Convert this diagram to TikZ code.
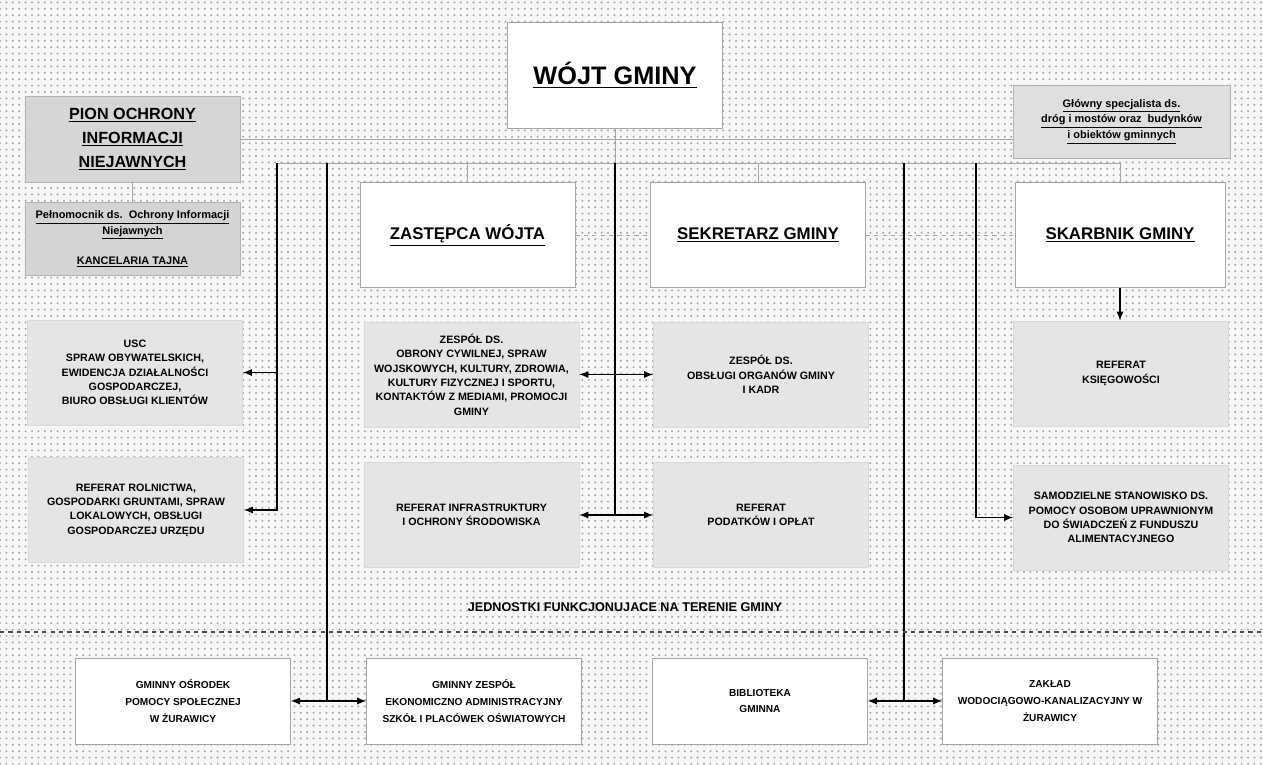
\documentclass[tikz,border=0pt]{standalone}
\usepackage{fontspec}
\setmainfont{Liberation Sans}
\usetikzlibrary{patterns.meta}

\tikzset{
  orgbox/.style={draw=gray!70, fill=white, align=center, inner sep=1pt,
    minimum width=53.75mm, minimum height=26.25mm,
    font=\bfseries\fontsize{7.6}{10.2}\selectfont},
  headbox/.style={orgbox, font=\bfseries\fontsize{12}{14}\selectfont},
  greybox/.style={orgbox, draw=gray!30, fill=gray!20},
  darkbox/.style={orgbox, draw=gray!60, fill=gray!32},
  extbox/.style={orgbox, minimum height=21.5mm, font=\bfseries\fontsize{7.2}{11.8}\selectfont},
  link/.style={very thick},
  thin link/.style={gray!70, thin}
}

\begin{document}
\begin{tikzpicture}[x=0.25mm, y=-0.25mm, >=latex]
\useasboundingbox (0,0) rectangle (1263,764);
\fill[gray!6] (0,0) rectangle (1263,764);
\fill[pattern={Dots[distance=1.6mm, radius=0.26mm]}, pattern color=gray!75] (0,0) rectangle (1263,764);

% top
\node[headbox, minimum height=26.5mm, font=\bfseries\fontsize{18}{20}\selectfont] (wojt) at (615,75) {\underline{WÓJT GMINY}};
\node[darkbox, minimum height=21.5mm, font=\bfseries\fontsize{11.5}{17}\selectfont] (pion) at (132.5,139)
  {\underline{PION OCHRONY}\\\underline{INFORMACJI}\\\underline{NIEJAWNYCH}};
\node[darkbox, fill=gray!34, minimum height=18.25mm, font=\bfseries\fontsize{7.8}{10.7}\selectfont] (pelnomocnik) at (132.5,239)
  {\underline{Pełnomocnik ds.\ \ Ochrony Informacji}\\\underline{Niejawnych}\\[10.7pt]\underline{KANCELARIA TAJNA}};
\node[darkbox, fill=gray!25, minimum width=54.25mm, minimum height=18.25mm, font=\bfseries\fontsize{7.8}{11.3}\selectfont] (glowny) at (1121.5,121.5)
  {\underline{Główny specjalista ds.}\\\underline{dróg i mostów oraz\ \ budynków}\\\underline{i obiektów gminnych}};

\node[headbox] (zastepca) at (467.5,235) {\underline{ZASTĘPCA WÓJTA}};
\node[headbox] (sekretarz) at (758,235) {\underline{SEKRETARZ GMINY}};
\node[headbox, minimum width=52.5mm] (skarbnik) at (1120,235) {\underline{SKARBNIK GMINY}};

% departments
\node[greybox] (usc) at (135,372.5) {USC\\SPRAW OBYWATELSKICH,\\EWIDENCJA DZIAŁALNOŚCI\\GOSPODARCZEJ,\\BIURO OBSŁUGI KLIENTÓW};
\node[greybox] (rolnictwa) at (136,510) {REFERAT ROLNICTWA,\\GOSPODARKI GRUNTAMI, SPRAW\\LOKALOWYCH, OBSŁUGI\\GOSPODARCZEJ URZĘDU};
\node[greybox] (zespol) at (471.5,374.5) {ZESPÓŁ DS.\\OBRONY CYWILNEJ, SPRAW\\WOJSKOWYCH, KULTURY, ZDROWIA,\\KULTURY FIZYCZNEJ I SPORTU,\\KONTAKTÓW Z MEDIAMI, PROMOCJI\\GMINY};
\node[greybox] (infra) at (471.5,515) {REFERAT INFRASTRUKTURY\\I OCHRONY ŚRODOWISKA};
\node[greybox] (organy) at (761,374.5) {ZESPÓŁ DS.\\OBSŁUGI ORGANÓW GMINY\\I KADR};
\node[greybox] (podatki) at (761,515) {REFERAT\\PODATKÓW I OPŁAT};
\node[greybox] (ksiegowosc) at (1121,373.5) {REFERAT\\KSIĘGOWOŚCI};
\node[greybox] (samodzielne) at (1121,517.5) {SAMODZIELNE STANOWISKO DS.\\POMOCY OSOBOM UPRAWNIONYM\\DO ŚWIADCZEŃ Z FUNDUSZU\\ALIMENTACYJNEGO};

% units
\node[font=\bfseries\fontsize{9}{11}\selectfont] (jednostki) at (625,607) {JEDNOSTKI FUNKCJONUJACE NA TERENIE GMINY};
\node[extbox] (gops) at (183,701) {GMINNY OŚRODEK\\POMOCY SPOŁECZNEJ\\W ŻURAWICY};
\node[extbox] (gzeas) at (474,701) {GMINNY ZESPÓŁ\\EKONOMICZNO ADMINISTRACYJNY\\SZKÓŁ I PLACÓWEK OŚWIATOWYCH};
\node[extbox] (biblioteka) at (760,701) {BIBLIOTEKA\\GMINNA};
\node[extbox] (zaklad) at (1050,701) {ZAKŁAD\\WODOCIĄGOWO-KANALIZACYJNY W\\ŻURAWICY};

\coordinate (busL) at (277,163);
\coordinate (busR) at (1120,163);
\coordinate (bus2) at (327,163);
\coordinate (bus4) at (904,163);
\coordinate (bus5) at (976,163);
\coordinate (sepL) at (0,632);
\coordinate (sepR) at (1263,632);

% lines
\draw[thin link] (pion.east) -- (pion.east -| glowny.west);
\draw[thin link] (pion) -- (pelnomocnik);
\draw[thin link] (wojt) -- (wojt |- busL);
\draw[thin link] (busL) -- (busR);
\draw[thin link] (zastepca.north |- busL) -- (zastepca);
\draw[thin link] (sekretarz.north |- busL) -- (sekretarz);
\draw[thin link] (busR) -- (skarbnik);
\draw[thin link, dashed] (zastepca) -- (sekretarz);
\draw[thin link, dashed] (sekretarz) -- (skarbnik);

\draw[link, ->] (busL) |- (rolnictwa);
\draw[link, ->] (busL |- usc.east) -- (usc);
\draw[link] (bus2) -- (bus2 |- gops.east);
\draw[link, <->] (gops) -- (gzeas);
\draw[link] (wojt.south |- busL) -- (wojt.south |- infra.east);
\draw[link, <->] (zespol) -- (organy);
\draw[link, <->] (infra) -- (podatki);
\draw[link, ->] (skarbnik.south) -- (skarbnik.south |- ksiegowosc.north);
\draw[link] (bus4) -- (bus4 |- biblioteka.east);
\draw[link, <->] (biblioteka) -- (zaklad);
\draw[link, ->] (bus5) |- (samodzielne);

\draw[dashed, very thick, gray!60!black] (sepL) -- (sepR);
\end{tikzpicture}
\end{document}
